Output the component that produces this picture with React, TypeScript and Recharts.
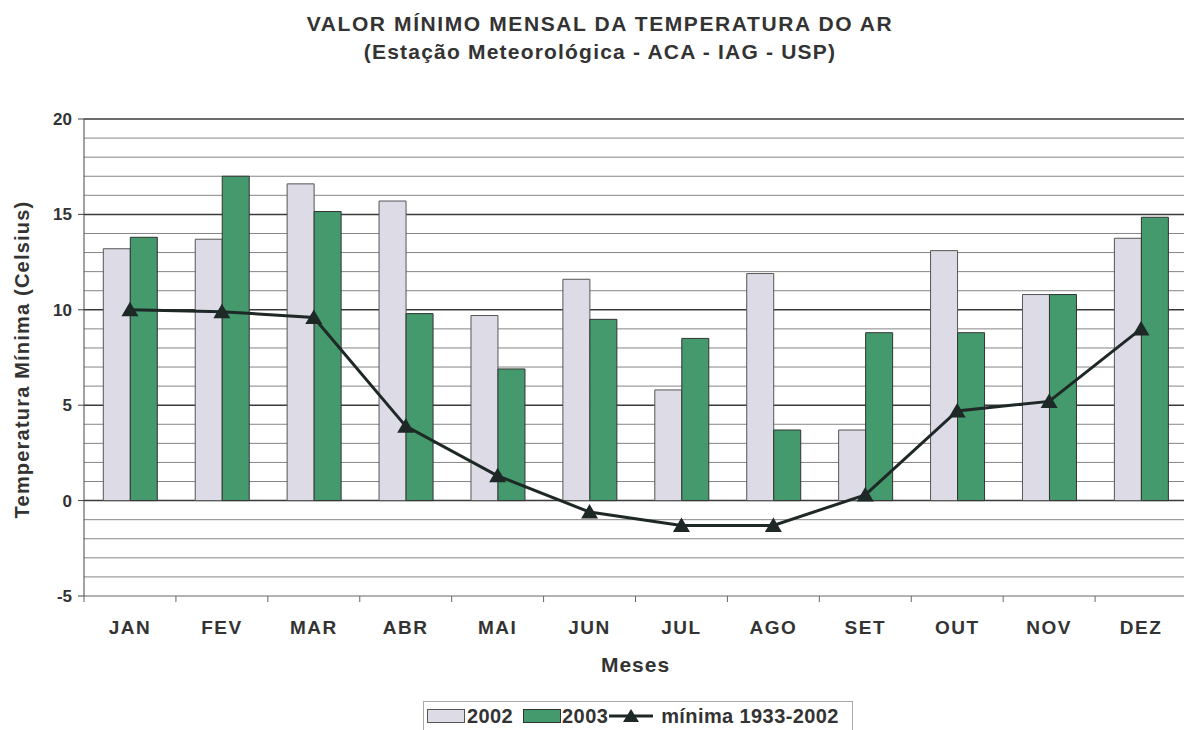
import { ComposedChart, Bar, Line, XAxis, YAxis, CartesianGrid, Legend } from "recharts";

const months = ["JAN", "FEV", "MAR", "ABR", "MAI", "JUN", "JUL", "AGO", "SET", "OUT", "NOV", "DEZ"];
const min2002 = [13.2, 13.7, 16.6, 15.7, 9.7, 11.6, 5.8, 11.9, 3.7, 13.1, 10.8, 13.75];
const min2003 = [13.8, 17.0, 15.15, 9.8, 6.9, 9.5, 8.5, 3.7, 8.8, 8.8, 10.8, 14.85];
const min1933_2002 = [10.0, 9.9, 9.6, 3.9, 1.3, -0.6, -1.3, -1.3, 0.3, 4.7, 5.2, 9.0];

const yTicks = [-5, 0, 5, 10, 15, 20];
const minorLines = [-4, -3, -2, -1, 1, 2, 3, 4, 6, 7, 8, 9, 11, 12, 13, 14, 16, 17, 18, 19];
const majorLines = [0, 5, 10, 15, 20];

const data = months.map((m, i) => ({
  mes: m,
  y2002: min2002[i],
  y2003: min2003[i],
  media: min1933_2002[i],
}));

const FONT = "'Liberation Sans', Arial, sans-serif";
const TXT = "#333";

const Triangle = (props: any) => {
  const { cx, cy } = props;
  if (cx == null || cy == null) return null;
  return <path d={`M${cx},${cy - 8} L${cx + 8.5},${cy + 6.5} L${cx - 8.5},${cy + 6.5} Z`} fill="#1e2826" />;
};

const MonthTick = (props: any) => {
  const { x, y, payload } = props;
  const half = payload?.offset ?? 46;
  return (
    <g>
      <line x1={x - half} x2={x - half} y1={y} y2={y + 6} stroke="#666" />
      <text
        x={x}
        y={y + 38}
        textAnchor="middle"
        fontFamily={FONT}
        fontWeight="bold"
        fontSize={19}
        letterSpacing={1.5}
        fill={TXT}
      >
        {payload.value}
      </text>
    </g>
  );
};

const LegendBox = () => (
  <div
    style={{
      display: "flex",
      alignItems: "center",
      border: "1px solid #aaa",
      height: 30,
      boxSizing: "border-box",
      padding: "0 3px",
      fontFamily: FONT,
      fontWeight: "bold",
      fontSize: 20,
      letterSpacing: 0.4,
      color: TXT,
      background: "#fff",
    }}
  >
    <span style={{ width: 36, height: 12, background: "#dddbe6", border: "1px solid #555", display: "inline-block" }} />
    <span style={{ marginLeft: 2, marginRight: 10 }}>2002</span>
    <span style={{ width: 36, height: 12, background: "#449a6c", border: "1px solid #333", display: "inline-block" }} />
    <span style={{ marginLeft: 1, marginRight: 1 }}>2003</span>
    <svg width={44} height={20}>
      <line x1={0} x2={44} y1={10} y2={10} stroke="#1e2826" strokeWidth={3} />
      <path d="M22,3 L30,16 L14,16 Z" fill="#1e2826" />
    </svg>
    <span style={{ marginLeft: 8 }}>mínima 1933-2002</span>
  </div>
);

export default function App() {
  return (
    <div
      style={{
        position: "absolute",
        left: 0,
        top: 0,
        width: 1184,
        height: 730,
        overflow: "hidden",
        background: "#fff",
      }}
    >
      <div
        style={{
          position: "absolute",
          left: 0,
          top: 10,
          width: 1200,
          textAlign: "center",
          fontFamily: FONT,
          fontWeight: "bold",
          fontSize: 21,
          lineHeight: "28px",
          color: TXT,
        }}
      >
        <div style={{ letterSpacing: 1.6 }}>VALOR MÍNIMO MENSAL DA TEMPERATURA DO AR</div>
        <div style={{ letterSpacing: 1.2 }}>(Estação Meteorológica - ACA - IAG - USP)</div>
      </div>
      <ComposedChart
        width={1200}
        height={730}
        data={data}
        margin={{ top: 119, right: 13, left: 0, bottom: 54 }}
        barCategoryGap="21%"
        barGap={0}
      >
        <CartesianGrid horizontalValues={minorLines} vertical={false} stroke="#858585" strokeWidth={1} />
        <CartesianGrid horizontalValues={majorLines} vertical={false} stroke="#3a3a3a" strokeWidth={1.5} />
        <XAxis
          dataKey="mes"
          height={80}
          tickSize={0}
          tickMargin={0}
          axisLine={{ stroke: "#666" }}
          tick={<MonthTick />}
          interval={0}
          label={{
            value: "Meses",
            position: "insideBottom",
            offset: 4,
            fontFamily: FONT,
            fontWeight: "bold",
            fontSize: 21,
            letterSpacing: 1,
            fill: TXT,
          }}
        />
        <YAxis
          width={84}
          domain={[-5, 20]}
          ticks={yTicks}
          interval={0}
          tickSize={6}
          tickMargin={6}
          axisLine={{ stroke: "#444" }}
          tickLine={{ stroke: "#444" }}
          tick={{ fontFamily: FONT, fontWeight: "bold", fontSize: 17, fill: TXT }}
          label={{
            value: "Temperatura Mínima (Celsius)",
            angle: -90,
            position: "center",
            dx: -20,
            dy: 2,
            fontFamily: FONT,
            fontWeight: "bold",
            fontSize: 20,
            letterSpacing: 1.2,
            fill: TXT,
          }}
        />
        <Legend
          verticalAlign="middle"
          align="center"
          content={() => <LegendBox />}
          wrapperStyle={{ left: 423, top: 701, width: 430, height: 30 }}
        />
        <Bar dataKey="y2002" name="2002" fill="#dddbe6" stroke="#555" strokeWidth={1} isAnimationActive={false} />
        <Bar dataKey="y2003" name="2003" fill="#449a6c" stroke="#333" strokeWidth={1} isAnimationActive={false} />
        <Line
          dataKey="media"
          name="mínima 1933-2002"
          type="linear"
          stroke="#1e2826"
          strokeWidth={3}
          dot={<Triangle />}
          activeDot={false}
          isAnimationActive={false}
        />
      </ComposedChart>
    </div>
  );
}
